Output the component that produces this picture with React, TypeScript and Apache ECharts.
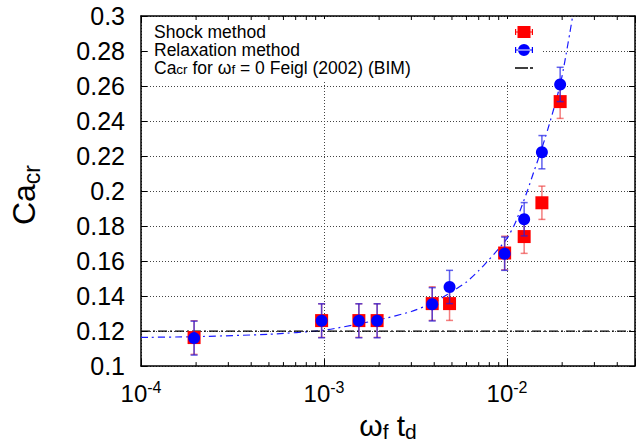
import React, { useEffect, useRef } from 'react';
import * as echarts from 'echarts';

const X_MIN = 1e-4;
const X_MAX = 5e-2;
const Y_MIN = 0.1;
const Y_MAX = 0.3;
const Y_STEP = 0.02;

const SHOCK = 'Shock method';
const RELAX = 'Relaxation method';
const FEIGL = 'Ca_cr for ω_f = 0 Feigl (2002) (BIM)';

const shockX = [1.95e-4, 9.7e-4, 1.55e-3, 1.95e-3, 3.9e-3, 4.85e-3, 9.7e-3, 1.24e-2, 1.55e-2, 1.95e-2];
const shockCa = [0.1163, 0.126, 0.126, 0.126, 0.1357, 0.1357, 0.1646, 0.174, 0.1933, 0.2511];
const shockErr = [0.0096, 0.0096, 0.0096, 0.0096, 0.0096, 0.0096, 0.0096, 0.0096, 0.0095, 0.0096];

const relaxX = [1.95e-4, 9.7e-4, 1.55e-3, 1.95e-3, 3.9e-3, 4.85e-3, 9.7e-3, 1.24e-2, 1.55e-2, 1.95e-2];
const relaxCa = [0.116, 0.1259, 0.1259, 0.1259, 0.1353, 0.1452, 0.1642, 0.1839, 0.2222, 0.2609];
const relaxErr = [0.0097, 0.0097, 0.0097, 0.0097, 0.0095, 0.0095, 0.0095, 0.0095, 0.0095, 0.0098];

const fitX = [1e-4, 2e-4, 5e-4, 1e-3, 2e-3, 3e-3, 4e-3, 5e-3, 6e-3, 7e-3, 8e-3, 9e-3, 1e-2, 1.1e-2, 1.2e-2, 1.3e-2, 1.4e-2, 1.5e-2, 1.6e-2, 1.7e-2, 1.8e-2, 1.9e-2, 2.0e-2, 2.1e-2, 2.2e-2, 2.3e-2, 2.4e-2];
const fitCa = [0.1164, 0.1168, 0.1182, 0.1205, 0.1265, 0.1312, 0.1365, 0.1425, 0.148, 0.1545, 0.161, 0.167, 0.173, 0.181, 0.191, 0.201, 0.211, 0.22, 0.229, 0.238, 0.247, 0.256, 0.266, 0.278, 0.29, 0.302, 0.314];

const feiglCa = 0.12;

const minorTicks = [2e-4, 3e-4, 4e-4, 5e-4, 6e-4, 7e-4, 8e-4, 9e-4, 2e-3, 3e-3, 4e-3, 5e-3, 6e-3, 7e-3, 8e-3, 9e-3, 2e-2, 3e-2, 4e-2];

const FONT = '"Liberation Sans", Arial, Helvetica, sans-serif';

const legendRich: Record<string, string> = {
  [SHOCK]: '{n|Shock method}',
  [RELAX]: '{n|Relaxation method}',
  [FEIGL]: '{n|Ca}{s|cr}{n| for ω}{s|f}{n| = 0 Feigl (2002) (BIM)}',
};

const ICON_SQ = 'path://M2.5,0h13v12h-13Z M0,5.4h18v1.2h-18Z M0,3h1.2v6h-1.2Z M16.8,3h1.2v6h-1.2Z';
const ICON_CI = 'path://M3,6a6,6 0 1,0 12,0a6,6 0 1,0 -12,0Z M0,5.4h18v1.2h-18Z M0,3h1.2v6h-1.2Z M16.8,3h1.2v6h-1.2Z';
const ICON_LN = 'path://M0,0h13v1.3h-13Z M15,0h3v1.3h-3Z';

function errorBar(color: string) {
  return (params: any, api: any) => {
    const x = api.value(0);
    const lo = api.value(2);
    const hi = api.value(3);
    const top = api.coord([x, hi]);
    const bot = api.coord([x, lo]);
    const half = 3.5;
    const style = { stroke: color, lineWidth: 1.5, fill: 'none' };
    return {
      type: 'group',
      children: [
        { type: 'line', shape: { x1: top[0], y1: top[1], x2: bot[0], y2: bot[1] }, style },
        { type: 'line', shape: { x1: top[0] - half, y1: top[1], x2: top[0] + half, y2: top[1] }, style },
        { type: 'line', shape: { x1: bot[0] - half, y1: bot[1], x2: bot[0] + half, y2: bot[1] }, style },
      ],
    };
  };
}

function minorTickRender(params: any, api: any) {
  const cs = params.coordSys;
  const p = api.coord([api.value(0), api.value(1)]);
  const x = p[0];
  const style = { stroke: '#000', lineWidth: 1, fill: 'none' };
  return {
    type: 'group',
    children: [
      { type: 'line', shape: { x1: x, y1: cs.y + cs.height, x2: x, y2: cs.y + cs.height - 4 }, style },
      { type: 'line', shape: { x1: x, y1: cs.y, x2: x, y2: cs.y + 4 }, style },
    ],
  };
}

function expLabel(v: number) {
  const l = Math.log10(v);
  const r = Math.round(l);
  if (Math.abs(l - r) > 1e-6) return '';
  return '{b|10}{e|' + r + '}';
}

export default function App() {
  const ref = useRef<HTMLDivElement>(null);
  useEffect(() => {
    if (!ref.current) return;
    const chart = echarts.init(ref.current, undefined, { renderer: 'svg' });
    const axisLine = { show: true, lineStyle: { color: '#000', width: 1.5 } };
    const gridLine = { show: true, lineStyle: { color: '#444', width: 1, type: [1, 2] as any } };
    const option: any = {
      animation: false,
      backgroundColor: '#fff',
      textStyle: { fontFamily: FONT },
      grid: { left: 138, top: 16, width: 507, height: 353, containLabel: false },
      legend: [
        {
          show: true,
          selectedMode: false,
          orient: 'vertical',
          left: 149,
          top: 19,
          padding: [4, 5, 4, 0],
          itemGap: 0,
          itemWidth: 0,
          itemHeight: 12,
          icon: 'none',
          backgroundColor: '#fff',
          z: 4,
          data: [SHOCK, RELAX, FEIGL],
          formatter: (name: string) => legendRich[name] || name,
          textStyle: {
            width: 384,
            fontFamily: FONT,
            fontSize: 17.5,
            lineHeight: 17.5,
            color: '#000',
            rich: {
              n: { fontFamily: FONT, fontSize: 17.5, lineHeight: 17.5, color: '#000' },
              s: { fontFamily: FONT, fontSize: 13.5, lineHeight: 7, verticalAlign: 'bottom', color: '#000' },
            },
          },
        },
        {
          show: true,
          selectedMode: false,
          orient: 'vertical',
          left: 515,
          top: 19,
          padding: [4, 0, 4, 0],
          itemGap: 0,
          itemWidth: 18,
          itemHeight: 12,
          symbolKeepAspect: true,
          z: 5,
          itemStyle: { borderWidth: 0 },
          data: [
            { name: SHOCK, icon: ICON_SQ },
            { name: RELAX, icon: ICON_CI },
            { name: FEIGL, icon: ICON_LN },
          ],
          formatter: () => ' ',
          textStyle: { fontFamily: FONT, fontSize: 17.5, lineHeight: 17.5 },
        },
      ],
      xAxis: [
        {
          type: 'log',
          logBase: 10,
          min: X_MIN,
          max: X_MAX,
          position: 'bottom',
          axisLine,
          axisTick: { show: true, inside: true, length: 7, lineStyle: { color: '#000', width: 1 } },
          splitLine: gridLine,
          axisLabel: {
            show: true,
            margin: 13,
            formatter: expLabel,
            color: '#000',
            rich: {
              b: { fontFamily: FONT, fontSize: 24, lineHeight: 28, color: '#000' },
              e: { fontFamily: FONT, fontSize: 16, lineHeight: 16, verticalAlign: 'top', color: '#000' },
            },
          },
          name: '{n|ω}{s|f}{n| t}{s|d}',
          nameLocation: 'middle',
          nameGap: 41,
          nameTextStyle: {
            rich: {
              n: { fontFamily: FONT, fontSize: 30, lineHeight: 34, color: '#000' },
              s: { fontFamily: FONT, fontSize: 21, lineHeight: 20, verticalAlign: 'bottom', color: '#000' },
            },
          },
        },
        {
          type: 'log',
          logBase: 10,
          min: X_MIN,
          max: X_MAX,
          position: 'top',
          axisLine,
          axisTick: { show: true, inside: true, length: 7, lineStyle: { color: '#000', width: 1 } },
          splitLine: { show: false },
          axisLabel: { show: false },
        },
      ],
      yAxis: [
        {
          type: 'value',
          min: Y_MIN,
          max: Y_MAX,
          interval: Y_STEP,
          position: 'left',
          axisLine,
          axisTick: { show: true, inside: true, length: 6, lineStyle: { color: '#000', width: 1 } },
          splitLine: gridLine,
          axisLabel: { show: true, margin: 16, fontFamily: FONT, fontSize: 25, color: '#000' },
          name: '{n|Ca}{s|cr}',
          nameLocation: 'middle',
          nameGap: 98,
          nameRotate: 90,
          nameTextStyle: {
            padding: [0, 8, 0, 0],
            rich: {
              n: { fontFamily: FONT, fontSize: 32, lineHeight: 38, color: '#000' },
              s: { fontFamily: FONT, fontSize: 23, lineHeight: 22, verticalAlign: 'bottom', color: '#000' },
            },
          },
        },
        {
          type: 'value',
          min: Y_MIN,
          max: Y_MAX,
          interval: Y_STEP,
          position: 'right',
          axisLine,
          axisTick: { show: true, inside: true, length: 6, lineStyle: { color: '#000', width: 1 } },
          splitLine: { show: false },
          axisLabel: { show: false },
        },
      ],
      series: [
        {
          name: 'fit',
          type: 'line',
          xAxisIndex: 0,
          yAxisIndex: 0,
          data: fitX.map((x, i) => [x, fitCa[i]]),
          symbol: 'none',
          smooth: 0.2,
          clip: true,
          lineStyle: { color: '#1a1aff', width: 1.2, type: [7, 4, 2, 4] },
          itemStyle: { color: '#1a1aff' },
          z: 2,
        },
        {
          name: FEIGL,
          type: 'line',
          xAxisIndex: 0,
          yAxisIndex: 0,
          data: [[X_MIN, feiglCa], [X_MAX, feiglCa]],
          symbol: 'none',
          lineStyle: { color: '#000', width: 1.2, type: [9, 3, 2, 3] },
          itemStyle: { color: '#000' },
          z: 2,
        },
        {
          name: 'shock-err',
          type: 'custom',
          xAxisIndex: 0,
          yAxisIndex: 0,
          renderItem: errorBar('rgba(235,40,40,0.6)'),
          encode: { x: 0, y: [1, 2, 3] },
          data: shockX.map((x, i) => [x, shockCa[i], shockCa[i] - shockErr[i], shockCa[i] + shockErr[i]]),
          z: 3,
        },
        {
          name: SHOCK,
          type: 'scatter',
          xAxisIndex: 0,
          yAxisIndex: 0,
          symbol: 'rect',
          symbolSize: 13,
          itemStyle: { color: '#ff0000', opacity: 1 },
          data: shockX.map((x, i) => [x, shockCa[i]]),
          z: 4,
        },
        {
          name: 'relax-err',
          type: 'custom',
          xAxisIndex: 0,
          yAxisIndex: 0,
          renderItem: errorBar('rgba(30,30,230,0.7)'),
          encode: { x: 0, y: [1, 2, 3] },
          data: relaxX.map((x, i) => [x, relaxCa[i], relaxCa[i] - relaxErr[i], relaxCa[i] + relaxErr[i]]),
          z: 5,
        },
        {
          name: RELAX,
          type: 'scatter',
          xAxisIndex: 0,
          yAxisIndex: 0,
          symbol: 'circle',
          symbolSize: 12,
          itemStyle: { color: '#0000ff', opacity: 1 },
          data: relaxX.map((x, i) => [x, relaxCa[i]]),
          z: 6,
        },
        {
          name: 'minor-ticks',
          type: 'custom',
          xAxisIndex: 0,
          yAxisIndex: 0,
          renderItem: minorTickRender,
          encode: { x: 0, y: 1 },
          data: minorTicks.map((v) => [v, Y_MIN]),
          silent: true,
          z: 7,
        },
      ],
    };
    chart.setOption(option);
    return () => chart.dispose();
  }, []);
  return (
    <div
      ref={ref}
      style={{ position: 'fixed', left: 0, top: 0, width: 638, height: 447, background: '#fff' }}
    />
  );
}
